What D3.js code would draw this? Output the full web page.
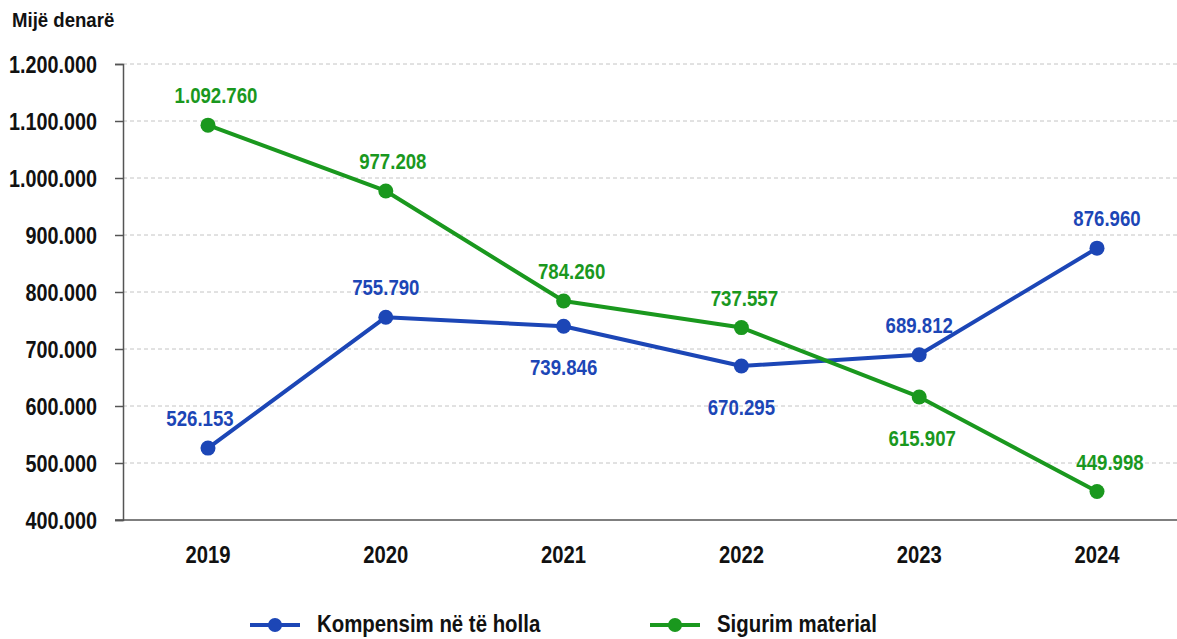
<!DOCTYPE html>
<html>
<head>
<meta charset="utf-8">
<script src="https://cdn.jsdelivr.net/npm/d3@7"></script>
<style>
  body { margin: 0; background: #fff; }
  text { font-family: 'Liberation Sans', Arial, sans-serif; font-weight: bold; }
</style>
</head>
<body>
<svg id="chart" width="1177" height="639"></svg>
<script>
const years = ['2019', '2020', '2021', '2022', '2023', '2024'];
const kompensim = [526153, 755790, 739846, 670295, 689812, 876960];
const sigurim = [1092760, 977208, 784260, 737557, 615907, 449998];
const kompensimLabelPos = ['above', 'above', 'below', 'below', 'above', 'above'];
const sigurimLabelPos = ['above', 'above', 'above', 'above', 'below', 'above'];
const yTicks = [400000, 500000, 600000, 700000, 800000, 900000, 1000000, 1100000, 1200000];

const BLUE = '#1c46b6';
const GREEN = '#1a981e';
const FONT = "'Liberation Sans', Arial, sans-serif";

const svg = d3.select('#chart');
const fmt = v => d3.format(',')(v).replace(/,/g, '.');

const x = d3.scalePoint().domain(years).range([208, 1097]);
const y = d3.scaleLinear().domain([400000, 1200000]).range([520, 64]);

// narrow bold text: squeeze horizontally around its anchor point
function narrowText(g, px, py, str, size, sx, color, anchor) {
  return g.append('text')
    .attr('transform', `translate(${px},${py}) scale(${sx},1)`)
    .attr('text-anchor', anchor || 'middle')
    .attr('fill', color)
    .style('font-size', size + 'px')
    .text(str);
}

// gridlines
svg.append('g')
  .selectAll('line')
  .data(yTicks.slice(1))
  .join('line')
  .attr('x1', 123).attr('x2', 1177)
  .attr('y1', d => y(d)).attr('y2', d => y(d))
  .attr('stroke', '#c4c4c4')
  .attr('stroke-width', 1)
  .attr('stroke-dasharray', '4,3');

// y axis
const yAxis = svg.append('g')
  .attr('transform', 'translate(123,0)')
  .call(d3.axisLeft(y).tickValues(yTicks).tickSize(8).tickFormat(''));
yAxis.select('.domain').attr('stroke', '#555').attr('stroke-width', 1.5);
yAxis.selectAll('.tick line').attr('stroke', '#555').attr('stroke-width', 1.5);
yAxis.selectAll('.tick').each(function(d) {
  narrowText(d3.select(this), -26, 8, fmt(d), 23, 0.86, '#111', 'end')
    .style('font-family', FONT).style('font-weight', 'bold');
});

// x axis
svg.append('line')
  .attr('x1', 115).attr('x2', 1177)
  .attr('y1', 520).attr('y2', 520)
  .attr('stroke', '#555').attr('stroke-width', 1.5);

const xLabels = svg.append('g');
years.forEach(yr => narrowText(xLabels, x(yr), 563, yr, 23, 0.88, '#111'));

// title
narrowText(svg, 12, 27, 'Mijë denarë', 20, 0.93, '#111', 'start');

const series = [
  { name: 'Kompensim në të holla', values: kompensim, pos: kompensimLabelPos, color: BLUE, dx: [-8, 0, 0, 0, 0, 10] },
  { name: 'Sigurim material', values: sigurim, pos: sigurimLabelPos, color: GREEN, dx: [8, 7, 8, 3, 3, 13] }
];

const line = d3.line().x((d, i) => x(years[i])).y(d => y(d));

series.forEach(s => {
  svg.append('path')
    .datum(s.values)
    .attr('d', line)
    .attr('fill', 'none')
    .attr('stroke', s.color)
    .attr('stroke-width', 4)
    .attr('stroke-linejoin', 'round');

  svg.append('g')
    .selectAll('circle')
    .data(s.values)
    .join('circle')
    .attr('cx', (d, i) => x(years[i]))
    .attr('cy', d => y(d))
    .attr('r', 7.5)
    .attr('fill', s.color);

  const labels = svg.append('g');
  s.values.forEach((v, i) => {
    const ly = y(v) + (s.pos[i] === 'above' ? -22 : 49);
    narrowText(labels, x(years[i]) + s.dx[i], ly, fmt(v), 23, 0.81, s.color);
  });
});

// legend
const legend = svg.append('g').attr('transform', 'translate(0,625)');
series.forEach((s, i) => {
  const lx = 250 + i * 400;
  legend.append('line')
    .attr('x1', lx).attr('x2', lx + 50)
    .attr('stroke', s.color).attr('stroke-width', 4);
  legend.append('circle')
    .attr('cx', lx + 25).attr('r', 7)
    .attr('fill', s.color);
  narrowText(legend, lx + 67, 7, s.name, 24, 0.85, '#111', 'start');
});
</script>
</body>
</html>
